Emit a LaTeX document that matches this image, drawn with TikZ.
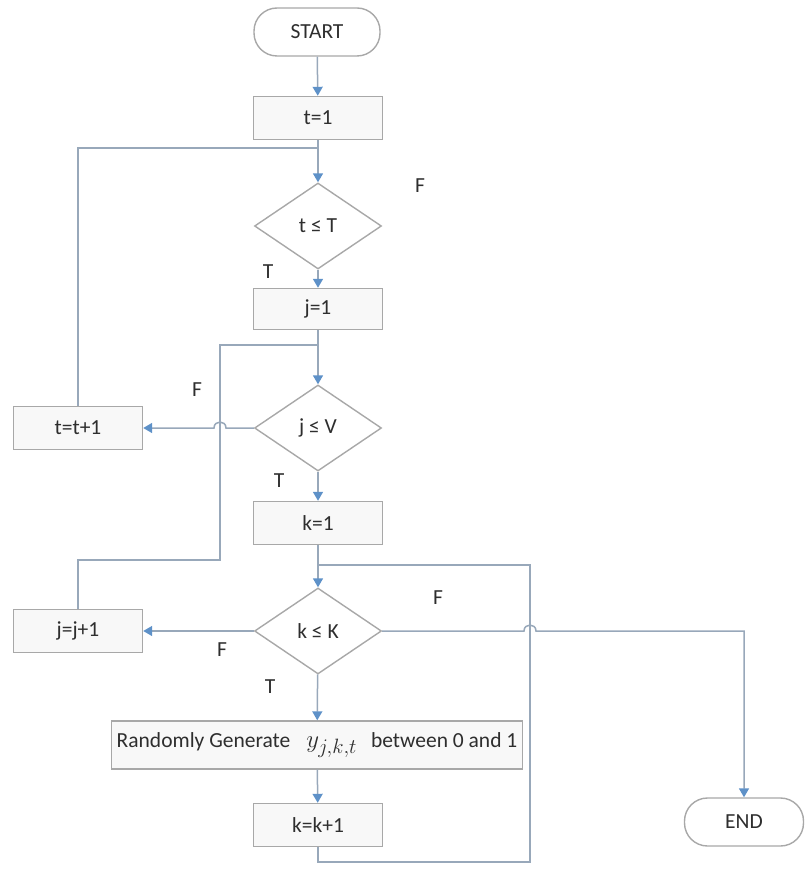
\documentclass[tikz,border=0pt]{standalone}
\usepackage{fontspec}
\setmainfont{Carlito}
\usetikzlibrary{arrows.meta,shapes.geometric}
\definecolor{boxline}{HTML}{A8A8A8}
\definecolor{boxfill}{HTML}{F8F8F8}
\definecolor{flow}{HTML}{98A8BA}
\definecolor{tip}{HTML}{5E91C8}
\definecolor{ink}{HTML}{2E2E2E}
\begin{document}
\begin{tikzpicture}[x=1pt,y=-1pt,
  every node/.style={font=\fontsize{21.5}{24}\selectfont, text=ink},
  box/.style={draw=boxline, fill=boxfill, line width=1.4pt, minimum width=129pt, minimum height=43pt, inner sep=0pt},
  term/.style={draw=boxline, fill=white, line width=1.4pt, rounded corners=23pt, minimum width=126pt, minimum height=48pt, inner sep=0pt},
  dec/.style={draw=boxline, fill=white, line width=1.4pt, diamond, aspect=1.48, minimum width=127pt, minimum height=86pt, inner sep=0pt},
  flowline/.style={draw=flow, line width=1.5pt},
  arr/.style={flowline, -{Triangle[length=9pt,width=10pt,fill=tip,color=tip]}},
  lbl/.style={inner sep=0pt}
]
\useasboundingbox (0,0) rectangle (804,877);

% nodes
\node[term] (start) at (317,32) {START};
\node[box] (t1) at (318,118) {t=1};
\node[dec] (dt) at (318,226) {t ≤ T};
\node[box, minimum height=41pt] (j1) at (318,309) {j=1};
\node[dec] (dj) at (318,428) {j ≤ V};
\node[box] (tinc) at (78,428) {t=t+1};
\node[box] (k1) at (318,523) {k=1};
\node[dec] (dk) at (318,631) {k ≤ K};
\node[box] (jinc) at (78,631) {j=j+1};
\node[box, minimum width=411pt, minimum height=48pt] (gen) at (317,745)
  {Randomly Generate\hspace{16pt}{\fontsize{30}{32}\selectfont$y_{j,k,t}$}\hspace{14pt}between 0 and 1};
\node[box] (kinc) at (318,825) {k=k+1};
\node[term, minimum width=119pt] (end) at (744,822) {END};

% branch labels
\node[lbl] (f0) at (420,186) {F};
\node[lbl] (tt) at (268,272) {T};
\node[lbl] (fj) at (197,390) {F};
\node[lbl] (tj) at (279,481) {T};
\node[lbl] (fk) at (438,598) {F};
\node[lbl] (fk2) at (222,650) {F};
\node[lbl] (tk) at (270,687) {T};

% junction and bend points
\coordinate (m1) at (318,148);
\coordinate (m2) at (318,345);
\coordinate (c2) at (220,560);
\coordinate (m3) at (318,565);
\coordinate (c3) at (530,862);
\coordinate (hA) at (226,428);
\coordinate (hB) at (214,428);
\coordinate (hC) at (524,631);
\coordinate (hD) at (536,631);

% loop-back lines
\draw[flowline] (tinc.north) |- (m1);
\draw[flowline] (jinc.north) |- (c2) |- (m2);
\draw[flowline] (kinc.south) |- (c3) |- (m3);

% main flow
\draw[arr] (start) -- (t1);
\draw[arr] (t1) -- (dt);
\draw[arr] (dt) -- (j1);
\draw[arr] (j1) -- (dj);
\draw[arr] (dj.west) -- (hA) .. controls (226,420) and (214,420) .. (hB) -- (tinc.east);
\draw[arr] (dj) -- (k1);
\draw[arr] (k1) -- (dk);
\draw[arr] (dk.west) -- (jinc.east);
\draw[arr] (dk.east) -- (hC) .. controls (524,623) and (536,623) .. (hD) -| (end.north);
\draw[arr] (dk) -- (gen);
\draw[arr] (gen) -- (kinc);
\end{tikzpicture}
\end{document}
